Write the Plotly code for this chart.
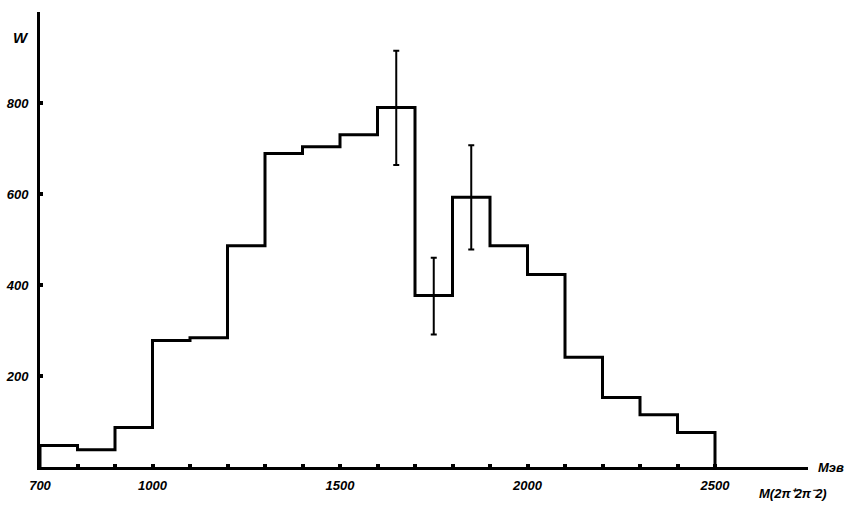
import plotly.graph_objects as go

# Histogram bins (MeV) and heights
bin_edges = list(range(700, 2600, 100))
counts = [47, 38, 87, 278, 284, 486, 689, 704, 730, 790,
          377, 593, 486, 423, 241, 153, 115, 76]

# Error bars
err_x = [1650, 1750, 1850]
err_val = [790, 377, 593]
err_top = [915, 460, 707]
err_bot = [664, 291, 478]

x_ticks = list(range(700, 2600, 100))
x_labels = {700: "700", 1000: "1000", 1500: "1500", 2000: "2000", 2500: "2500"}
y_ticks = [200, 400, 600, 800]

# Build step outline from the data
sx, sy = [bin_edges[0]], [0]
for i, c in enumerate(counts):
    sx += [bin_edges[i], bin_edges[i + 1]]
    sy += [c, c]
sx.append(bin_edges[-1])
sy.append(0)

fig = go.Figure()
fig.add_trace(go.Scatter(x=sx, y=sy, mode="lines",
                         line=dict(color="black", width=3),
                         hoverinfo="skip", showlegend=False))
fig.add_trace(go.Scatter(
    x=err_x, y=err_val, mode="markers",
    marker=dict(size=1, color="rgba(0,0,0,0)"),
    error_y=dict(type="data", symmetric=False,
                 array=[t - v for t, v in zip(err_top, err_val)],
                 arrayminus=[v - b for v, b in zip(err_val, err_bot)],
                 color="black", thickness=2, width=3),
    showlegend=False))

tick_font = dict(family="Liberation Sans", size=13, color="black",
                 style="italic", weight="bold")
lab_font = dict(family="Liberation Sans", size=13, color="black",
                style="italic", weight="bold")

fig.update_layout(
    width=851, height=507,
    margin=dict(l=40, r=43, t=12, b=40),
    paper_bgcolor="white", plot_bgcolor="white",
    xaxis=dict(range=[700, 2748], showgrid=False, zeroline=False,
               automargin=False,
               showline=True, linecolor="black", linewidth=3,
               tickvals=x_ticks,
               ticktext=[x_labels.get(v, "") for v in x_ticks],
               ticks="inside", ticklen=3, tickwidth=4, tickcolor="black",
               tickfont=tick_font, ticklabelstandoff=4),
    yaxis=dict(range=[0, 1000], showgrid=False, zeroline=False,
               automargin=False,
               showline=True, linecolor="black", linewidth=3,
               tickvals=y_ticks, ticktext=[str(v) for v in y_ticks],
               ticks="inside", ticklen=3, tickwidth=4, tickcolor="black",
               tickfont=tick_font, ticklabelstandoff=6),
    annotations=[
        dict(text="W", xref="paper", yref="paper", x=-0.025, y=0.943,
             xanchor="center", yanchor="middle",
             showarrow=False, font=dict(lab_font, size=15)),
        dict(text="Мэв", xref="paper", yref="paper", x=1.03, y=0.0,
             xanchor="center", yanchor="middle",
             showarrow=False, font=lab_font),
        dict(text="M(2π⁺2π⁻2)", xref="paper", yref="paper", x=0.98, y=-0.059,
             xanchor="center", yanchor="middle",
             showarrow=False, font=lab_font),
    ],
)

fig.write_html("out.html")
